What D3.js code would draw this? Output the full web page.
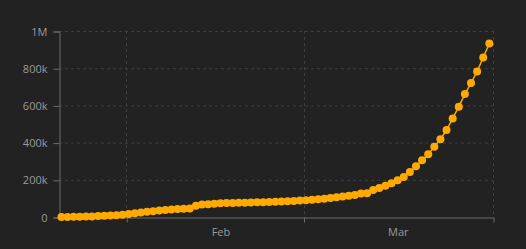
<!DOCTYPE html>
<html>
<head>
    <meta charset="utf-8">
    <script src="https://d3js.org/d3.v7.min.js"></script>
    <style>
        body { margin: 0; background: #222222; }
        svg { display: block; }
        .tick text { font-family: "Open Sans", "Noto Sans", sans-serif; font-size: 11px; fill: #9a9a9a; }
    </style>
</head>
<body>
<script>
    // cumulative confirmed cases, one value per day from Jan 22
    const startDate = "2020-01-22";
    const cases = [
        555, 654, 941, 1434, 2118, 2927, 5578, 6166, 8234, 9927,
        12038, 16787, 19881, 23892, 27635, 30794, 34391, 37120, 40150, 42762,
        44802, 45221, 60368, 66885, 69030, 71224, 73258, 75136, 75639, 76197,
        76819, 78572, 78958, 79561, 80406, 81388, 82746, 84112, 86011, 88369,
        90306, 92840, 95120, 97886, 101801, 105847, 109821, 113590, 118620, 125875,
        128352, 145205, 156101, 167454, 181574, 197102, 214821, 242570, 272208, 304507,
        336953, 378235, 418045, 467653, 529591, 593291, 660706, 720117, 782365, 857487,
        932605
    ];
    const yTicks = [0, 200000, 400000, 600000, 800000, 1000000];
    const yTickLabels = ["0", "200k", "400k", "600k", "800k", "1M"];
    const monthTicks = ["2020-02-01", "2020-03-01", "2020-04-01"];
    const monthLabels = ["Feb", "Mar"];

    const W = 526, H = 249;
    const margin = {left: 59, right: 33, top: 31, bottom: 32};

    const parse = d3.utcParse("%Y-%m-%d");
    const day = 864e5;
    // points are stamped a little before local midnight of their date
    const shift = 0.6 * day;
    const data = cases.map((v, i) => ({date: new Date(parse(startDate).getTime() + i * day - shift), value: v}));

    const svg = d3.select("body").append("svg").attr("width", W).attr("height", H);

    const x = d3.scaleUtc()
        .domain([parse("2020-01-21"), parse("2020-04-01")])
        .range([margin.left, W - margin.right]);
    const y = d3.scaleLinear()
        .domain([0, 1000000])
        .range([H - margin.bottom, margin.top]);

    const tickDates = monthTicks.map(parse);

    // grid
    svg.append("g").selectAll("line.h")
        .data(yTicks.slice(1))
        .enter().append("line")
        .attr("x1", margin.left).attr("x2", W - margin.right)
        .attr("y1", d => y(d) + 0.5).attr("y2", d => y(d) + 0.5)
        .attr("stroke", "#3f3f3f").attr("stroke-dasharray", "3,3");
    svg.append("g").selectAll("line.v")
        .data(tickDates)
        .enter().append("line")
        .attr("x1", d => Math.round(x(d)) + 0.5).attr("x2", d => Math.round(x(d)) + 0.5)
        .attr("y1", margin.top).attr("y2", H - margin.bottom)
        .attr("stroke", "#3f3f3f").attr("stroke-dasharray", "3,3");

    // y axis
    const yAxis = svg.append("g")
        .attr("transform", `translate(${margin.left + 0.5},0.5)`)
        .call(d3.axisLeft(y).tickValues(yTicks).tickFormat((d, i) => yTickLabels[i]).tickSize(6).tickPadding(6));
    yAxis.select(".domain").attr("stroke", "#6a6a6a");
    yAxis.selectAll(".tick line").attr("stroke", "#6a6a6a");

    // x axis
    const xAxis = svg.append("g")
        .attr("transform", `translate(0.5,${H - margin.bottom + 0.5})`)
        .call(d3.axisBottom(x).tickValues(tickDates).tickFormat("").tickSize(5).tickSizeOuter(0));
    xAxis.select(".domain").attr("stroke", "#6a6a6a");
    xAxis.selectAll(".tick line").attr("stroke", "#6a6a6a");

    svg.append("g").selectAll("text")
        .data(monthLabels)
        .enter().append("text")
        .attr("x", (d, i) => x(new Date(tickDates[i].getTime() + 15.5 * day)))
        .attr("y", H - margin.bottom + 19)
        .attr("text-anchor", "middle")
        .style("font-family", "'Open Sans', 'Noto Sans', sans-serif")
        .style("font-size", "11px")
        .style("fill", "#9a9a9a")
        .text(d => d);

    // series
    svg.append("path")
        .datum(data)
        .attr("fill", "none")
        .attr("stroke", "#ffaa00")
        .attr("stroke-width", 1.5)
        .attr("d", d3.line().x(d => x(d.date)).y(d => y(d.value)));

    svg.append("g").selectAll("circle")
        .data(data)
        .enter().append("circle")
        .attr("cx", d => x(d.date))
        .attr("cy", d => y(d.value))
        .attr("r", 4)
        .attr("fill", "#ffaa00");
</script>
</body>
</html>
